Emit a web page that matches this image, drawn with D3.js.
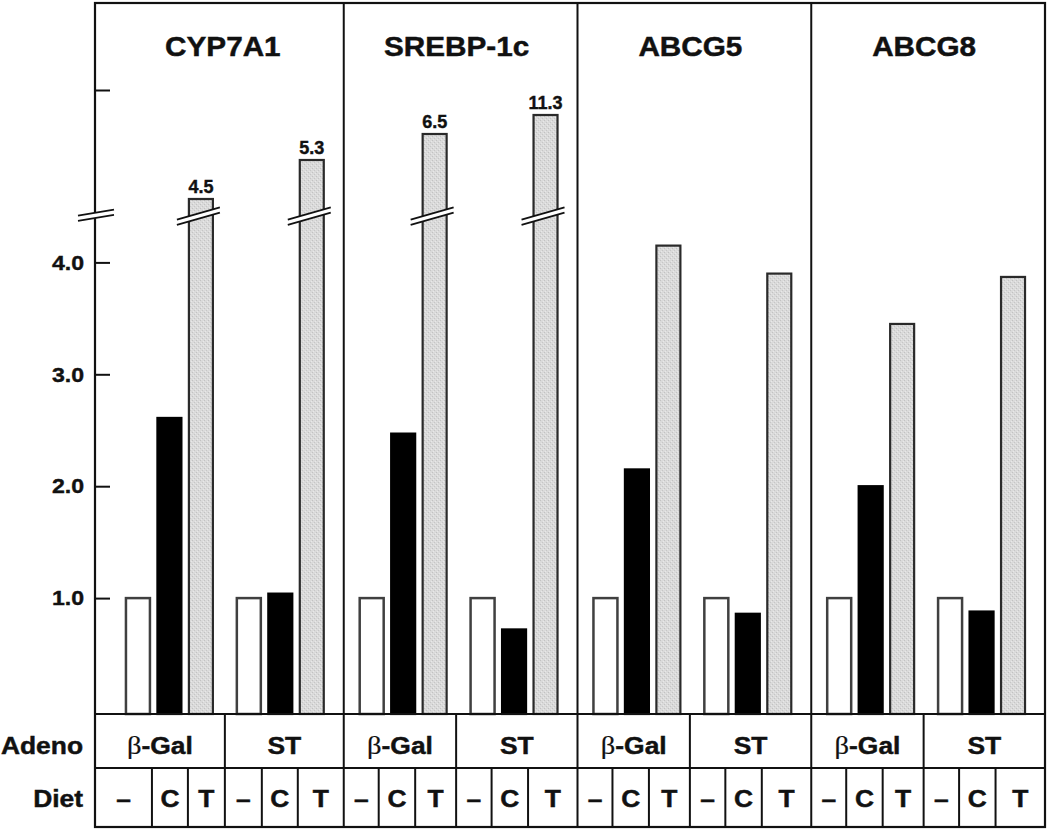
<!DOCTYPE html>
<html><head><meta charset="utf-8">
<script src="https://cdn.jsdelivr.net/npm/d3@7"></script>
<style>body{margin:0;background:#fff} text{paint-order:stroke}</style>
</head><body>
<svg id="chart" width="1050" height="831"></svg>
<script>
// ---- data ----
const genes = ["CYP7A1", "SREBP-1c", "ABCG5", "ABCG8"];
const adenoGroups = ["β-Gal", "ST"];
const diets = ["–", "C", "T"];
// order: β-Gal(–, C, T), ST(–, C, T)
const cyp7a1  = [1.0, 2.61, 4.5, 1.0, 1.04, 5.3];
const srebp1c = [1.0, 2.47, 6.5, 1.0, 0.72, 11.3];
const abcg5   = [1.0, 2.15, 4.15, 1.0, 0.86, 3.90];
const abcg8   = [1.0, 2.00, 3.45, 1.0, 0.88, 3.87];
const seriesByGene = [cyp7a1, srebp1c, abcg5, abcg8];
const yTickValues = [1, 2, 3, 4];
const yTickLabels = ["1.0", "2.0", "3.0", "4.0"];
const rowLabels = ["Adeno", "Diet"];

// ---- layout ----
const axisX = 95, frameTop = 3, plotLeft = 110, frameRight = 1045;
const plotBase = 714, adenoBottom = 768, dietBottom = 827;
const breakValue = 4.42;           // where the axis is broken
const upperTickValue = 17.6;       // unlabeled tick above the break
const firstPanelCells = [57, 36, 37, 37, 36, 46];
const otherPanelCells = [35, 36.5, 41, 35.5, 36.5, 49.5];
const stretch = 1.1;
const FONT = "'Liberation Sans', Arial, Helvetica, sans-serif";

const svg = d3.select("#chart");
const defs = svg.append("defs");
const pat = defs.append("pattern").attr("id", "grain").attr("width", 4).attr("height", 4)
  .attr("patternUnits", "userSpaceOnUse");
pat.append("rect").attr("width", 4).attr("height", 4).attr("fill", "#dadada");
pat.append("rect").attr("x", 0).attr("y", 0).attr("width", 1).attr("height", 1).attr("fill", "#c2c2c2");
pat.append("rect").attr("x", 2).attr("y", 2).attr("width", 1).attr("height", 1).attr("fill", "#c6c6c6");
pat.append("rect").attr("x", 3).attr("y", 1).attr("width", 1).attr("height", 1).attr("fill", "#e8e8e8");
pat.append("rect").attr("x", 1).attr("y", 3).attr("width", 1).attr("height", 1).attr("fill", "#e8e8e8");

// ---- scales ----
const y = d3.scaleLinear().domain([0, 4]).range([710, 262.4]);
// upper (not-to-scale) segment above the break
const yUpper = d3.scaleLinear().domain([4.5, 5.3, 6.5, 11.3, upperTickValue]).range([199, 160, 134, 115, 90]);
const breakY = y(breakValue);

const xPanel = d3.scaleBand().domain(genes).range([plotLeft, frameRight]);
const xGroup = d3.scaleBand().domain(adenoGroups).range([0, xPanel.bandwidth()])
  .paddingInner(0.216).paddingOuter(0.162).align(0.444);
const xBar = d3.scaleBand().domain(diets).range([0, xGroup.bandwidth()]).paddingInner(0.238);

function panelLeft(g, i) { return i === 0 ? axisX : xPanel(g); }

// ---- bars ----
const barData = [];
genes.forEach((g, gi) => {
  adenoGroups.forEach((a, ai) => {
    diets.forEach((d, di) => {
      const v = seriesByGene[gi][ai * 3 + di];
      barData.push({ g, a, d, di, v, x: xPanel(g) + xGroup(a) + xBar(d) });
    });
  });
});
const bw = xBar.bandwidth();
const fills = ["#ffffff", "#000000", "url(#grain)"];
const strokes = ["#404040", "#000000", "#2a2a2a"];
const barTop = d => d.v > breakValue ? yUpper(d.v) : y(d.v);

svg.append("g").selectAll("rect").data(barData).join("rect")
  .attr("x", d => d.x)
  .attr("y", barTop)
  .attr("width", bw)
  .attr("height", d => plotBase - barTop(d))
  .attr("fill", d => fills[d.di])
  .attr("stroke", d => strokes[d.di])
  .attr("stroke-width", d => d.di === 0 ? 2.5 : 2.2);

// break marks on bars
const broken = barData.filter(d => d.v > breakValue);
const slope = -0.286, gap = 2.6;
const bg = svg.append("g");
broken.forEach(d => {
  const cx = d.x + bw / 2;
  const x0 = d.x - 12, x1 = d.x + bw + 7;
  const yu = xx => breakY - gap + slope * (xx - cx);
  const yl = xx => breakY + gap + slope * (xx - cx);
  bg.append("polygon")
    .attr("points", [[x0, yu(x0)], [x1, yu(x1)], [x1, yl(x1)], [x0, yl(x0)]].map(p => p.join(",")).join(" "))
    .attr("fill", "#fff");
  bg.append("line").attr("x1", x0).attr("y1", yu(x0)).attr("x2", x1).attr("y2", yu(x1))
    .attr("stroke", "#111").attr("stroke-width", 1.8);
  bg.append("line").attr("x1", x0).attr("y1", yl(x0)).attr("x2", x1).attr("y2", yl(x1))
    .attr("stroke", "#111").attr("stroke-width", 1.8);
});

// value labels on broken bars
svg.append("g").selectAll("text").data(broken).join("text")
  .attr("x", d => d.x + bw / 2)
  .attr("y", d => yUpper(d.v) - 6)
  .attr("text-anchor", "middle")
  .attr("font-family", FONT).attr("font-weight", "bold").attr("font-size", 18)
  .attr("fill", "#111").attr("stroke", "#111").attr("stroke-width", 0.4)
  .text(d => d3.format(".1f")(d.v));

// ---- frame & grid ----
const lines = svg.append("g").attr("stroke", "#111").attr("fill", "none");
lines.append("rect").attr("x", axisX).attr("y", frameTop).attr("width", frameRight - axisX)
  .attr("height", dietBottom - frameTop).attr("stroke-width", 2.2);
genes.slice(1).forEach(g => {
  lines.append("line").attr("x1", xPanel(g)).attr("x2", xPanel(g)).attr("y1", frameTop).attr("y2", dietBottom)
    .attr("stroke-width", 2);
});
[plotBase, adenoBottom].forEach(yy => {
  lines.append("line").attr("x1", axisX).attr("x2", frameRight).attr("y1", yy).attr("y2", yy).attr("stroke-width", 2.2);
});

// ---- y axis ----
const axisG = svg.append("g").attr("transform", `translate(${axisX},0)`)
  .call(d3.axisLeft(y).tickValues(yTickValues).tickFormat((d, i) => yTickLabels[i])
    .tickSize(-15).tickPadding(10));
axisG.select(".domain").remove();
axisG.selectAll("line").attr("stroke", "#111").attr("stroke-width", 2);
axisG.selectAll("text").attr("font-family", FONT).attr("font-weight", "bold").attr("font-size", 21)
  .attr("fill", "#111").attr("stroke", "#111").attr("stroke-width", 0.4)
  .attr("transform", `scale(${stretch},1)`);
const upG = svg.append("g").attr("transform", `translate(${axisX},0)`)
  .call(d3.axisLeft(yUpper).tickValues([upperTickValue]).tickFormat("").tickSize(-15));
upG.select(".domain").remove();
upG.selectAll("line").attr("stroke", "#111").attr("stroke-width", 2);

// axis break
{
  const s = -0.167, gp = 2.7, cx = axisX, x0 = 78, x1 = 114;
  const yu = xx => breakY - gp + s * (xx - cx);
  const yl = xx => breakY + gp + s * (xx - cx);
  svg.append("polygon")
    .attr("points", [[x0, yu(x0)], [x1, yu(x1)], [x1, yl(x1)], [x0, yl(x0)]].map(p => p.join(",")).join(" "))
    .attr("fill", "#fff");
  svg.append("line").attr("x1", x0).attr("y1", yu(x0)).attr("x2", x1).attr("y2", yu(x1))
    .attr("stroke", "#111").attr("stroke-width", 1.8);
  svg.append("line").attr("x1", x0).attr("y1", yl(x0)).attr("x2", x1).attr("y2", yl(x1))
    .attr("stroke", "#111").attr("stroke-width", 1.8);
}

// ---- titles ----
function stretchedText(sel, x, yy, anchor, size) {
  return sel.append("text")
    .attr("transform", `translate(${x},${yy}) scale(${stretch},1)`)
    .attr("text-anchor", anchor)
    .attr("font-family", FONT).attr("font-weight", "bold").attr("font-size", size)
    .attr("fill", "#111").attr("stroke", "#111").attr("stroke-width", 0.45);
}
const tg = svg.append("g");
genes.forEach(g => {
  stretchedText(tg, xPanel(g) + xPanel.bandwidth() / 2 - 4, 56, "middle", 27).text(g);
});

// ---- table ----
const table = svg.append("g");
genes.forEach((g, gi) => {
  const weights = gi === 0 ? firstPanelCells : otherPanelCells;
  const left = panelLeft(g, gi);
  const rightEdge = xPanel(g) + xPanel.bandwidth();
  const cx = d3.scaleLinear().domain([0, d3.sum(weights)]).range([left, rightEdge]);
  const cum = [0, ...d3.cumsum(weights)];
  for (let k = 1; k < 6; k++) {
    lines.append("line").attr("x1", cx(cum[k])).attr("x2", cx(cum[k]))
      .attr("y1", k === 3 ? plotBase : adenoBottom).attr("y2", dietBottom).attr("stroke-width", 2);
  }
  for (let k = 0; k < 6; k++) {
    const mid = (cx(cum[k]) + cx(cum[k + 1])) / 2;
    stretchedText(table, mid, 807, "middle", 24).text(diets[k % 3]);
  }
  adenoGroups.forEach((a, ai) => {
    const mid = (cx(cum[ai * 3]) + cx(cum[ai * 3 + 3])) / 2;
    const t = stretchedText(table, mid, 754, "middle", 24);
    if (a.startsWith("β")) {
      t.append("tspan").attr("font-family", "'Liberation Serif', 'DejaVu Serif', serif")
        .attr("font-weight", "normal").attr("stroke-width", 0.2).attr("font-size", 26).text("β");
      t.append("tspan").text(a.slice(1));
    } else {
      t.text(a);
    }
  });
});
stretchedText(table, 83, 754, "end", 24).text(rowLabels[0]);
stretchedText(table, 83, 807, "end", 24).text(rowLabels[1]);
</script>
</body></html>
